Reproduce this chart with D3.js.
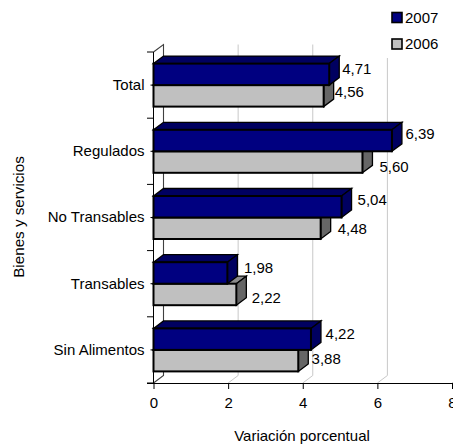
<!DOCTYPE html>
<html><head><meta charset="utf-8">
<style>html,body{margin:0;padding:0;background:#fff}svg{display:block}text{font-family:"Liberation Sans",Arial,sans-serif;fill:#000}</style>
<script src="https://cdn.jsdelivr.net/npm/d3@7/dist/d3.min.js"></script>
</head><body><svg id="c" width="453" height="444"></svg>
<script>
const categories = ["Total","Regulados","No Transables","Transables","Sin Alimentos"];
const values2007 = [4.71,6.39,5.04,1.98,4.22];
const values2006 = [4.56,5.60,4.48,2.22,3.88];
const xTicks = [0,2,4,6,8];
const seriesNames = ["2007","2006"];

const svg = d3.select("#c");
const FS=15;
const x = d3.scaleLinear().domain([0,8]).range([153.5,452]);
const y = d3.scaleBand().domain(categories).range([52,383]);
const DX=10, DY=7.5, BH=21.5;
const fmt = v => v.toFixed(2).replace(".",",");
const bar = [
 {name:"2007",vals:values2007,front:"#000080",top:"#000060",side:"#000060",off:-BH},
 {name:"2006",vals:values2006,front:"#c0c0c0",top:"#8c8c8c",side:"#666666",off:0}
];
const B=383,T=52;
const g=svg.append("g");
xTicks.forEach(t=>{
  if(t===0) return;
  g.append("path").attr("d",`M${x(t)},${B}L${x(t)+DX},${B-DY}L${x(t)+DX},${T-DY}`)
   .attr("fill","none").attr("stroke","#c8c8c8").attr("stroke-width",1);
});
g.append("path").attr("d",`M${x(0)},${B}L${x(0)+DX},${B-DY}L${x(0)+DX},${T-DY}L${x(0)},${T}`)
   .attr("fill","none").attr("stroke","#404040").attr("stroke-width",1.1);
svg.append("rect").attr("x",385).attr("y",0).attr("width",68).attr("height",58).attr("fill","#fff");

// small per-label placement tweaks as in the reference
const labelNudge = {"2007":[3,3.6,6,6.5,4.6],"2006":[1,7,7,5.3,3.3]};
const labelDy = {"2007":[-11,-12.3,-12.2,-10.4,-10.6],"2006":[11.6,20.7,16.5,19.6,14.1]};
const sw=2;
const lines=[];
categories.forEach((c,i)=>{
  const cy=y(c)+y.bandwidth()/2;
  [bar[1],bar[0]].forEach(s=>{
    const v=s.vals[i], x1=x(v), x0=x(0), y0=cy+s.off, y1=y0+BH;
    const G=svg.append("g").attr("stroke","#000").attr("stroke-width",sw).attr("stroke-linejoin","miter");
    G.append("path").attr("d",`M${x0},${y0}L${x0+DX},${y0-DY}L${x1+DX},${y0-DY}L${x1},${y0}Z`).attr("fill",s.top).attr("stroke-width",1.3);
    G.append("path").attr("d",`M${x1},${y0}L${x1+DX},${y0-DY}L${x1+DX},${y1-DY}L${x1},${y1}Z`).attr("fill",s.side).attr("stroke-width",1.3);
    G.append("rect").attr("x",x0).attr("y",y0).attr("width",x1-x0).attr("height",BH).attr("fill",s.front);
    lines.push({x:x1+DX+labelNudge[s.name][i],y:cy+labelDy[s.name][i],t:fmt(v)});
  });
});
lines.forEach(l=>svg.append("text").attr("x",l.x).attr("y",l.y).attr("font-size",FS).text(l.t));

const ax=svg.append("g").attr("transform",`translate(0,${B})`)
  .call(d3.axisBottom(x).tickValues(xTicks).tickSize(6).tickPadding(8).tickFormat(d3.format("d")));
ax.selectAll("text").attr("font-size",FS).attr("font-family",'"Liberation Sans"');
ax.selectAll("line,path").attr("stroke","#000").attr("stroke-width",1);
ax.select(".domain").attr("d",`M147,0.5H453`);
const ay=svg.append("g").attr("transform",`translate(${x(0)},0)`)
  .call(d3.axisLeft(y).tickSize(0).tickPadding(9));
ay.selectAll("text").attr("font-size",FS).attr("font-family",'"Liberation Sans"');
ay.select(".domain").attr("stroke","#000").attr("d",`M0,${T}V${B}`);
const yEdges=categories.map(c=>y(c)).concat([B]);
svg.append("g").selectAll("line").data(yEdges).join("line")
  .attr("x1",x(0)-6.5).attr("x2",x(0)).attr("y1",d=>d).attr("y2",d=>d).attr("stroke","#000");
svg.append("g").selectAll("line").data(categories).join("line")
  .attr("x1",x(0)-3).attr("x2",x(0)).attr("y1",d=>y(d)+y.bandwidth()/2).attr("y2",d=>y(d)+y.bandwidth()/2).attr("stroke","#000");

svg.append("text").attr("x",302).attr("y",441).attr("text-anchor","middle").attr("font-size",FS).text("Variación porcentual");
svg.append("text").attr("transform","translate(24,217) rotate(-90)").attr("text-anchor","middle").attr("font-size",15.2).text("Bienes y servicios");
const leg=svg.append("g").selectAll("g").data(seriesNames).join("g").attr("transform",(d,i)=>`translate(392,${12.5+i*26.5})`);
leg.append("rect").attr("width",10).attr("height",10).attr("fill",(d,i)=>bar[i].front).attr("stroke","#000").attr("stroke-width",1.6);
leg.append("text").attr("x",13).attr("y",10.2).attr("font-size",FS).text(d=>d);
</script></body></html>
